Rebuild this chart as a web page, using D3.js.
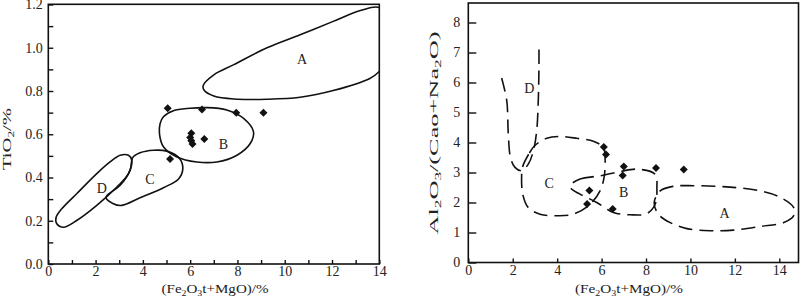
<!DOCTYPE html>
<html lang="en">
<head>
<meta charset="UTF-8">
<title>TiO2 and Al2O3/(CaO+Na2O) vs Fe2O3t+MgO</title>
<script src="https://cdn.jsdelivr.net/npm/d3@7"></script>
<style>
    body { margin: 0; background: #fff; }
    svg { display: block; font-family: "Liberation Serif", "DejaVu Serif", serif; }
    .tick text { font-size: 14px; fill: #222; }
    .domain { display: none; }
</style>
</head>
<body>
<svg id="chart" width="800" height="302"></svg>
<script>
// ---- left panel: TiO2 vs (Fe2O3t+MgO) ----
const leftXTicks = [0, 2, 4, 6, 8, 10, 12, 14];
const leftXMinor = [1, 3, 5, 7, 9, 11, 13];
const leftYTicks = [0, 0.2, 0.4, 0.6, 0.8, 1.0, 1.2];
const leftYMinor = [0.1, 0.3, 0.5, 0.7, 0.9, 1.1];

const leftSamples = [
    [5.05, 0.72], [6.5, 0.715], [7.95, 0.70], [9.1, 0.70],
    [6.05, 0.605], [6.0, 0.585], [6.05, 0.57], [6.1, 0.555], [6.6, 0.578],
    [5.15, 0.485]
];

const leftA = [
    [6.55, 0.825], [7.0, 0.875], [7.85, 0.922], [9.25, 1.0], [10.65, 1.06],
    [12.05, 1.122], [13.2, 1.172], [14.0, 1.186], [14.5, 1.1], [14.4, 0.95],
    [14.0, 0.89], [13.6, 0.858], [12.05, 0.802], [10.65, 0.771], [9.25, 0.762],
    [7.85, 0.763], [7.0, 0.777], [6.6, 0.802]
];
const leftB = [
    [4.73, 0.65], [4.87, 0.681], [5.29, 0.709], [6.0, 0.72], [6.7, 0.723],
    [7.55, 0.712], [8.26, 0.673], [8.68, 0.611], [8.54, 0.557], [7.98, 0.503],
    [7.13, 0.472], [6.28, 0.472], [5.44, 0.495], [4.87, 0.542], [4.7, 0.604]
];
const leftC = [
    [2.44, 0.309], [2.75, 0.279], [3.11, 0.271], [3.88, 0.306], [4.87, 0.353],
    [5.5, 0.392], [5.69, 0.441], [5.55, 0.488], [5.01, 0.522], [4.45, 0.526],
    [3.88, 0.514], [3.57, 0.492], [3.46, 0.433], [3.04, 0.364]
];
const leftD = [
    [0.36, 0.186], [0.64, 0.17], [1.2, 0.201], [2.05, 0.271], [2.9, 0.356],
    [3.39, 0.418], [3.53, 0.48], [3.39, 0.503], [3.04, 0.503], [2.61, 0.472],
    [2.05, 0.418], [1.2, 0.325], [0.57, 0.255], [0.33, 0.216]
];
const leftLabels = [["A", 10.73, 0.947], ["B", 7.41, 0.553], ["C", 4.3, 0.39], ["D", 2.26, 0.347]];

// ---- right panel: Al2O3/(CaO+Na2O) vs (Fe2O3t+MgO) ----
const rightXTicks = [0, 2, 4, 6, 8, 10, 12, 14];
const rightYTicks = [0, 1, 2, 3, 4, 5, 6, 7, 8];

const rightSamples = [
    [6.1, 3.85], [6.2, 3.6], [7.0, 3.2], [6.95, 2.9], [8.45, 3.15],
    [9.7, 3.1], [5.45, 2.4], [5.35, 1.95], [6.5, 1.78]
];

const rightA = [
    [8.37, 2.0], [8.64, 2.39], [9.24, 2.54], [10.14, 2.56], [11.64, 2.52],
    [13.14, 2.39], [14.05, 2.17], [14.65, 1.83], [14.65, 1.56], [14.2, 1.33],
    [13.14, 1.2], [11.94, 1.08], [10.89, 1.06], [9.84, 1.13], [9.09, 1.33], [8.56, 1.61]
];
const rightB = [
    [4.58, 2.56], [5.03, 2.78], [5.93, 2.89], [6.83, 3.03], [7.59, 3.11],
    [8.41, 2.94], [8.49, 2.5], [8.41, 1.94], [8.04, 1.63], [7.29, 1.59],
    [6.53, 1.67], [5.78, 2.0], [5.03, 2.28], [4.66, 2.44]
];
const rightC = [
    [2.45, 3.2], [2.75, 3.65], [3.0, 3.9], [3.53, 4.14], [4.13, 4.2], [4.88, 4.14],
    [5.63, 4.04], [6.08, 3.83], [6.16, 3.39], [6.11, 2.83], [5.93, 2.39], [5.48, 1.94],
    [4.73, 1.61], [3.98, 1.56], [3.23, 1.61], [2.7, 1.83], [2.45, 2.28], [2.4, 2.89]
];
const rightD = [
    [1.5, 6.15], [1.73, 5.4], [1.8, 4.3], [1.9, 3.5], [2.1, 3.17], [2.4, 3.06],
    [2.7, 3.28], [2.93, 3.72], [3.08, 4.4], [3.15, 5.4], [3.18, 6.5], [3.18, 7.25]
];
const rightLabels = [["A", 11.54, 1.63], ["B", 6.99, 2.33], ["C", 3.64, 2.63], ["D", 2.75, 5.81]];

const serif = "Liberation Serif, DejaVu Serif, serif";
const svg = d3.select("#chart");
const diamond = d3.symbol(d3.symbolSquare, 32);

// axis title with subscripts; parts are [text, isSub]
function subText(g, parts, x, y, len, rotate) {
    let t = g.append("text")
        .attr("x", x).attr("y", y)
        .attr("text-anchor", "middle")
        .attr("font-family", serif)
        .attr("font-size", 13)
        .attr("fill", "#222")
        .attr("textLength", len)
        .attr("lengthAdjust", "spacingAndGlyphs");
    if (rotate) t.attr("transform", `rotate(-90,${x},${y})`);
    let shifted = false;
    parts.forEach(p => {
        let s = t.append("tspan").text(p[0]);
        if (p[1]) {
            s.attr("font-size", 8.5);
            if (!shifted) s.attr("dy", 3);
            shifted = true;
        } else if (shifted) {
            s.attr("dy", -3);
            shifted = false;
        }
    });
}

function drawPanel(opt) {
    const g = svg.append("g");
    const x = opt.x, y = opt.y;
    const [x0] = x.range(), [y0] = y.range();

    g.append("clipPath").attr("id", opt.id + "clip")
        .append("rect").attr("x", x0).attr("y", opt.top)
        .attr("width", opt.right - x0).attr("height", y0 - opt.top);

    if (opt.xMinor) {
        g.append("g").attr("transform", `translate(0,${y0})`)
            .call(d3.axisBottom(x).tickValues(opt.xMinor).tickSize(-opt.xTick).tickFormat(""));
    }
    if (opt.yMinor) {
        g.append("g").attr("transform", `translate(${x0},0)`)
            .call(d3.axisLeft(y).tickValues(opt.yMinor).tickSize(-opt.yTick).tickFormat(""));
    }
    g.append("g").attr("transform", `translate(0,${y0})`)
        .call(d3.axisBottom(x).tickValues(opt.xTicks).tickSize(-opt.xTick).tickPadding(2.5)
            .tickFormat(d3.format("d")));
    g.append("g").attr("transform", `translate(${x0},0)`)
        .call(d3.axisLeft(y).tickValues(opt.yTicks).tickSize(-opt.yTick).tickPadding(opt.yPad)
            .tickFormat(opt.yFormat));
    // d3 puts sans-serif on the axis groups; use the serif face like the figure
    g.selectAll("g").attr("font-family", serif).attr("font-size", 14);
    g.selectAll(".tick line").attr("stroke", "#111").attr("stroke-width", 1.4);

    g.append("rect")
        .attr("x", x0).attr("y", opt.top)
        .attr("width", opt.right - x0).attr("height", y0 - opt.top)
        .attr("fill", "none").attr("stroke", "#111").attr("stroke-width", 1.6);

    const plot = g.append("g").attr("clip-path", `url(#${opt.id}clip)`);
    const closed = d3.line().x(d => x(d[0])).y(d => y(d[1])).curve(d3.curveCatmullRomClosed.alpha(0.5));
    const open = d3.line().x(d => x(d[0])).y(d => y(d[1])).curve(d3.curveCatmullRom.alpha(0.5));

    opt.regions.forEach(r => {
        plot.append("path")
            .attr("d", (r.open ? open : closed)(r.pts))
            .attr("fill", "none")
            .attr("stroke", "#111")
            .attr("stroke-width", 1.6)
            .attr("stroke-dasharray", opt.dash || null);
    });

    plot.selectAll(".lbl").data(opt.labels).enter().append("text")
        .attr("x", d => x(d[1])).attr("y", d => y(d[2]))
        .attr("text-anchor", "middle").attr("dominant-baseline", "central")
        .attr("font-family", serif)
        .attr("font-size", 14).attr("fill", "#222")
        .text(d => d[0]);

    plot.selectAll(".pt").data(opt.samples).enter().append("path")
        .attr("d", diamond)
        .attr("transform", d => `translate(${x(d[0])},${y(d[1])}) rotate(45)`)
        .attr("fill", "#111");

    return g;
}

const left = drawPanel({
    id: "l",
    x: d3.scaleLinear([0, 14], [48.3, 379.3]),
    y: d3.scaleLinear([0, 1.2], [264, 4.5]),
    top: 4.3, right: 379.3,
    xTicks: leftXTicks, xMinor: leftXMinor, yTicks: leftYTicks, yMinor: leftYMinor,
    xTick: 4, yTick: 5, yPad: 5.5, yFormat: d3.format(".1f"),
    regions: [{pts: leftA}, {pts: leftB}, {pts: leftC}, {pts: leftD}],
    labels: leftLabels, samples: leftSamples
});
subText(left, [["(Fe"], ["2", 1], ["O"], ["3", 1], ["t+MgO)/%"]], 215, 293, 107);
subText(left, [["TiO"], ["2", 1], ["/%"]], 11, 139, 62, true);

const right = drawPanel({
    id: "r",
    x: d3.scaleLinear([0, 14], [468.3, 779.3]),
    y: d3.scaleLinear([0, 8], [262.5, 22.5]),
    top: 3, right: 798.5,
    xTicks: rightXTicks, yTicks: rightYTicks,
    xTick: 4, yTick: 8, yPad: 8, yFormat: d3.format("d"),
    dash: "14,7",
    regions: [{pts: rightA}, {pts: rightB}, {pts: rightC}, {pts: rightD, open: true}],
    labels: rightLabels, samples: rightSamples
});
subText(right, [["(Fe"], ["2", 1], ["O"], ["3", 1], ["t+MgO)/%"]], 629, 293, 108);
subText(right, [["Al"], ["2", 1], ["O"], ["3", 1], ["/(Cao+Na"], ["2", 1], ["O)"]], 438, 133, 203, true);
</script>
</body>
</html>
